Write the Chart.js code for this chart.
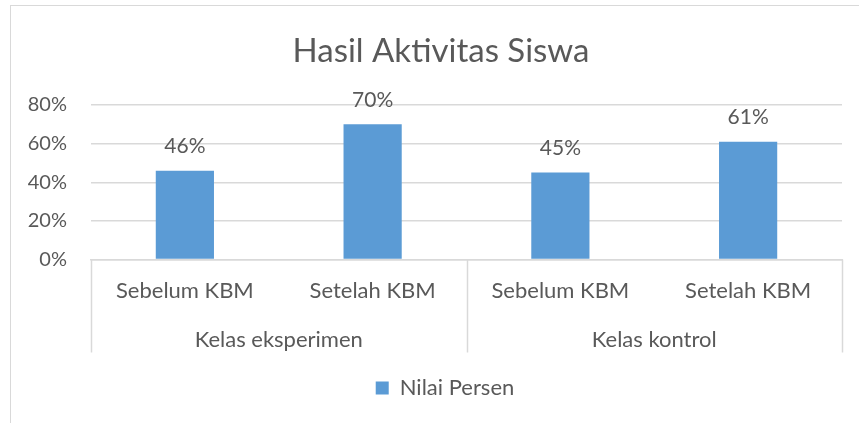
<!DOCTYPE html>
<html>
<head>
<meta charset="utf-8">
<script src="https://cdn.jsdelivr.net/npm/chart.js@4"></script>
<style>
  html, body { margin: 0; padding: 0; background: #fff; overflow: hidden; }
  #frame { position: absolute; left: 10px; top: 5px; width: 900px; height: 500px; border: 1.5px solid #d9d9d9; box-sizing: border-box; }
  #wrap { position: absolute; left: 0; top: 0; width: 859px; height: 423px; }
</style>
</head>
<body>
<div id="frame"></div>
<div id="wrap"><canvas id="chart"></canvas></div>
<script>
'use strict';

/* --------------------------------------------------------------------------
   DATA
   -------------------------------------------------------------------------- */
const categories = ['Sebelum KBM', 'Setelah KBM', 'Sebelum KBM', 'Setelah KBM'];
const groups = ['Kelas eksperimen', 'Kelas kontrol'];
const nilaiPersen = [46, 70, 45, 61];
const yTicks = [0, 20, 40, 60, 80];

const TEXT = '#595959';
const GRID = '#d9d9d9';
const BAR = '#5b9bd5';
const FONT = 'Lato, "Open Sans", sans-serif';

/* --------------------------------------------------------------------------
   PLUGINS
   -------------------------------------------------------------------------- */
// value labels above each bar
const barLabels = {
    id: 'barLabels',
    afterDatasetsDraw(chart) {
        const ctx = chart.ctx;
        ctx.save();
        ctx.font = '21px ' + FONT;
        ctx.fillStyle = TEXT;
        ctx.textAlign = 'center';
        ctx.textBaseline = 'middle';
        chart.getDatasetMeta(0).data.forEach((bar, i) => {
            ctx.fillText(nilaiPersen[i] + '%', bar.x, bar.y - 24);
        });
        ctx.restore();
    },
};

// box lines separating the two category groups
const groupLines = {
    id: 'groupLines',
    afterDraw(chart) {
        const { ctx, chartArea, scales } = chart;
        const x = scales.x;
        const mid = (x.getPixelForValue(1) + x.getPixelForValue(2)) / 2;
        const bottom = scales.x2.bottom;
        ctx.save();
        ctx.strokeStyle = GRID;
        ctx.lineWidth = 1.5;
        [chartArea.left, mid, chartArea.right].forEach(px => {
            ctx.beginPath();
            ctx.moveTo(Math.round(px) + 0.5, chartArea.bottom);
            ctx.lineTo(Math.round(px) + 0.5, bottom);
            ctx.stroke();
        });
        ctx.restore();
    },
};

// Excel centres title and legend on the whole frame, not the padded box
const centreShift = {
    id: 'centreShift',
    afterLayout(chart) {
        chart.legend.left += 19;
        chart.legend.right += 19;
        chart.titleBlock.left += 15;
        chart.titleBlock.right += 15;
    },
};

/* --------------------------------------------------------------------------
   CHART
   -------------------------------------------------------------------------- */
new Chart(document.getElementById('chart').getContext('2d'), {
    type: 'bar',
    data: {
        labels: categories,
        datasets: [{
            label: 'Nilai Persen',
            data: nilaiPersen,
            backgroundColor: BAR,
            borderWidth: 0,
            categoryPercentage: 1,
            barPercentage: 0.31,
        }],
    },
    options: {
        responsive: true,
        maintainAspectRatio: false,
        animation: false,
        layout: { padding: { left: 10, right: 17, top: 0, bottom: 14 } },
        plugins: {
            title: {
                display: true,
                text: 'Hasil Aktivitas Siswa',
                color: TEXT,
                font: { family: FONT, size: 33, weight: 'normal', lineHeight: 1.2 },
                padding: { top: 32, bottom: 33.4 },
            },
            legend: {
                position: 'bottom',
                labels: {
                    color: TEXT,
                    font: { family: FONT, size: 22 },
                    boxWidth: 13,
                    boxHeight: 13,
                    padding: 24.5,
                },
            },
            tooltip: { enabled: false },
        },
        scales: {
            y: {
                min: 0,
                max: 80,
                afterBuildTicks: s => { s.ticks = yTicks.map(v => ({ value: v })); },
                afterFit: s => { s.width = 81; },
                ticks: { color: TEXT, font: { family: FONT, size: 20 }, padding: 24, callback: v => v + '%' },
                grid: { color: GRID, lineWidth: 1.5, drawTicks: false },
                border: { display: false },
            },
            x: {
                afterFit: s => { s.height = 54; },
                ticks: { color: TEXT, font: { family: FONT, size: 22 }, padding: 10, maxRotation: 0, autoSkip: false },
                grid: { display: false },
                border: { color: GRID, width: 1.5 },
            },
            x2: {
                type: 'category',
                position: 'bottom',
                labels: groups,
                offset: true,
                afterFit: s => { s.height = 39; },
                ticks: { color: TEXT, font: { family: FONT, size: 22 }, padding: 5, maxRotation: 0 },
                grid: { display: false },
                border: { display: false },
            },
        },
    },
    plugins: [barLabels, groupLines, centreShift],
});
</script>
</body>
</html>
